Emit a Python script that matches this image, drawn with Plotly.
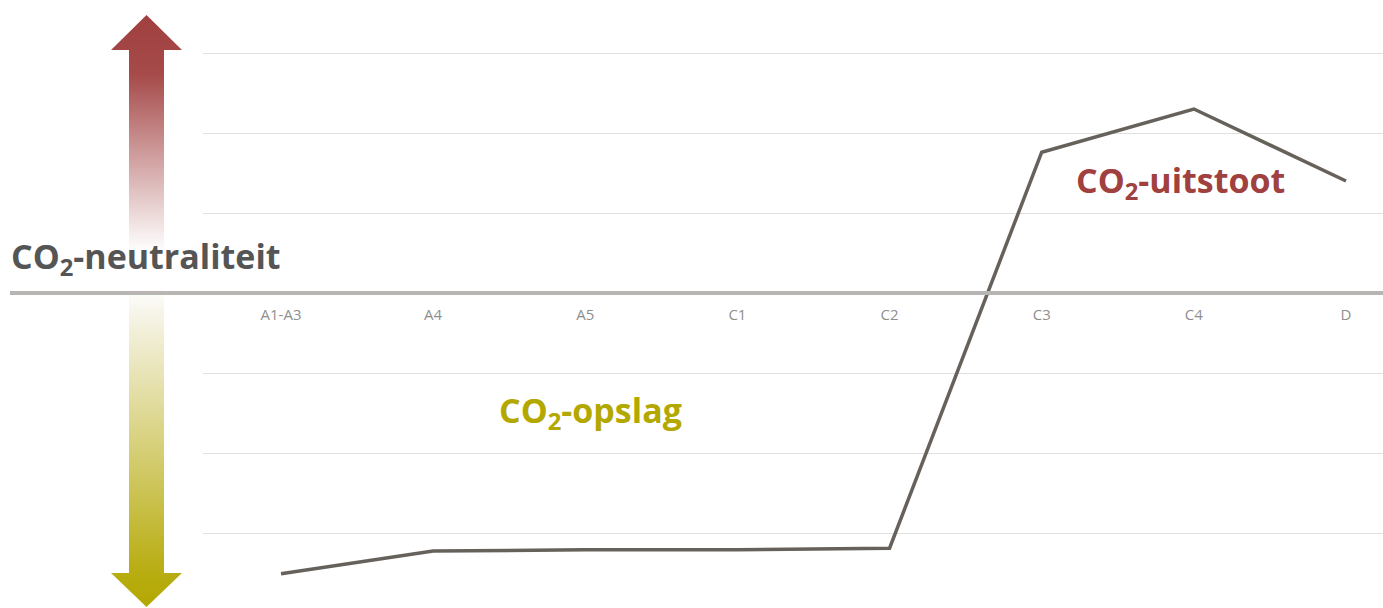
import plotly.graph_objects as go

# ---- data ----
categories = ["A1-A3", "A4", "A5", "C1", "C2", "C3", "C4", "D"]
values = [-3.51, -3.225, -3.21, -3.21, -3.19, 1.76, 2.30, 1.40]

label_neutral = "CO<sub>2</sub>-neutraliteit"
label_emission = "CO<sub>2</sub>-uitstoot"
label_storage = "CO<sub>2</sub>-opslag"

# ---- style / geometry ----
W, H = 1383, 608
PLOT_LEFT = 203
ZERO_PX = 293
UNIT_PX = 80
RED = "#a0403f"
OLIVE = "#b3a800"
DARK = "#555555"
LINE = "#67615b"

y_lo = -(H - ZERO_PX) / UNIT_PX
y_hi = ZERO_PX / UNIT_PX
first_px, last_px = 281, 1346
step = (last_px - first_px) / (len(categories) - 1)
x_lo = -(first_px - PLOT_LEFT) / step
x_hi = (len(categories) - 1) + (W - last_px) / step

# arrow polygon in pixel space (x right, y up from bottom)
cx, shaft_half, head_half = 146.5, 17.5, 35.5
top_tip, top_base = 15, 50
bot_base, bot_tip = 573, 607
def up(p):
    return H - p
arrow_x = [cx, cx + head_half, cx + shaft_half, cx + shaft_half, cx + head_half, cx,
           cx - head_half, cx - shaft_half, cx - shaft_half, cx - head_half, cx]
arrow_y = [up(top_tip), up(top_base), up(top_base), up(bot_base), up(bot_base), up(bot_tip),
           up(bot_base), up(bot_base), up(top_base), up(top_base), up(top_tip)]

fig = go.Figure()

fig.add_trace(go.Scatter(
    x=arrow_x, y=arrow_y, xaxis="x2", yaxis="y2",
    mode="lines", line=dict(width=0, color="rgba(0,0,0,0)"),
    fill="toself",
    fillgradient=dict(
        type="vertical",
        colorscale=[
            [0.0, OLIVE],
            [0.06, "#b8ad12"],
            [0.50, "#f7f5ea"],
            [0.54, "#ffffff"],
            [0.60, "#ffffff"],
            [0.90, "#a64a4a"],
            [1.0, RED],
        ],
    ),
    hoverinfo="skip", showlegend=False,
))

fig.add_trace(go.Scatter(
    x=categories, y=values, mode="lines",
    line=dict(color=LINE, width=3.5),
    showlegend=False,
))

fig.update_layout(
    width=W, height=H,
    margin=dict(l=0, r=0, t=0, b=0),
    paper_bgcolor="white", plot_bgcolor="white",
    xaxis=dict(
        domain=[PLOT_LEFT / W, 1], range=[x_lo, x_hi],
        type="category", categoryorder="array", categoryarray=categories,
        anchor="free", position=(H - ZERO_PX) / H,
        showgrid=False, showline=False, zeroline=False,
        ticks="outside", ticklen=8, tickcolor="rgba(0,0,0,0)",
        tickfont=dict(family="Open Sans", size=15, color="#8f8f8f"),
    ),
    yaxis=dict(
        domain=[0, 1], range=[y_lo, y_hi], dtick=1, tick0=0,
        showgrid=True, gridcolor="#e0e0e0", gridwidth=1,
        zeroline=False, showticklabels=False, showline=False,
    ),
    xaxis2=dict(domain=[0, PLOT_LEFT / W], range=[0, PLOT_LEFT], visible=False),
    yaxis2=dict(domain=[0, 1], range=[0, H], visible=False, anchor="x2"),
    shapes=[dict(
        type="line", xref="paper", yref="y",
        x0=10 / W, x1=1, y0=0, y1=0,
        line=dict(color="#b8b5b2", width=4), layer="above",
    )],
    annotations=[
        dict(text=label_neutral, xref="paper", yref="paper",
             x=9 / W, y=(H - 258) / H, xanchor="left", yanchor="middle",
             showarrow=False,
             font=dict(family="Open Sans", size=34, color=DARK, weight=700)),
        dict(text=label_emission, xref="paper", yref="paper",
             x=1180 / W, y=(H - 182) / H, xanchor="center", yanchor="middle",
             showarrow=False,
             font=dict(family="Open Sans", size=34, color=RED, weight=700)),
        dict(text=label_storage, xref="paper", yref="paper",
             x=590 / W, y=(H - 412) / H, xanchor="center", yanchor="middle",
             showarrow=False,
             font=dict(family="Open Sans", size=34, color=OLIVE, weight=700)),
    ],
)

fig.write_html("out.html", config={"displayModeBar": False},
               post_script="document.body.style.margin='0';")
